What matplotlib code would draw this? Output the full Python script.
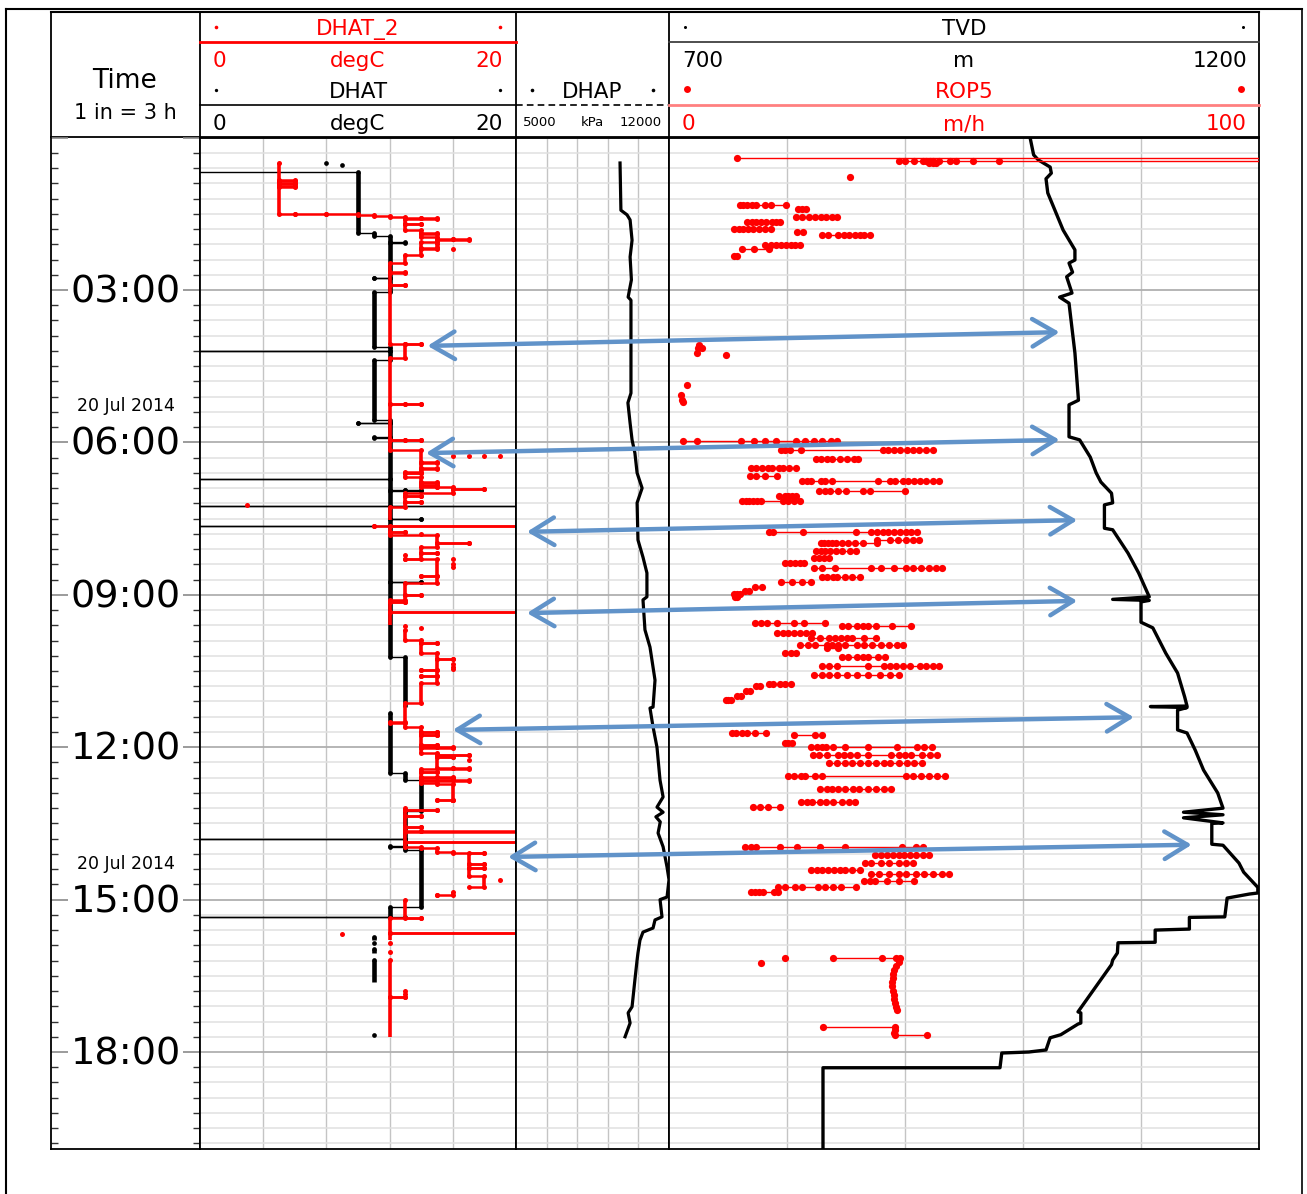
import numpy as np
import matplotlib.pyplot as plt
from matplotlib.patches import ConnectionPatch
from matplotlib.ticker import MultipleLocator

nan = float('nan')

# ---- data (time in hours after 00:00 on 20 Jul 2014) ----
# DHAT / DHAT_2: change points (hour, degC); value holds until the next point, nan = no data
dhat_pts = [
    (0.50, 8), (0.505, nan), (0.54, 9), (0.545, nan),
    (0.66, -2), (0.68, 10), (1.88, 11), (1.94, 12), (2.06, 13), (2.065, 12), (2.76, 11), (2.765, 12), (3.04, 11),
    (4.12, 12), (4.20, -2), (4.205, 12), (4.38, 11), (5.56, 12), (5.62, 10), (5.625, 12), (5.89, 11), (5.92, 12),
    (6.72, -2), (6.725, 12), (6.94, 13), (6.945, 14), (6.95, 12), (7.25, -2), (7.252, 22), (7.255, 12),
    (7.51, 14), (7.515, 12), (7.65, -2), (7.655, 12), (8.75, 14), (8.755, 12), (10.23, 13), (11.21, nan),
    (11.33, 12), (12.51, 13), (12.65, 14), (13.25, 13), (13.81, -2), (13.815, 13), (13.95, 12), (13.955, 13),
    (14.02, 14), (15.14, 12), (15.34, -2), (15.345, 13), (15.35, nan),
    (15.74, 11), (15.80, nan), (15.85, 11), (15.86, nan), (15.98, 11), (16.05, nan),
    (16.19, 11), (16.62, nan), (17.66, 11), (17.665, nan),
]

dhat2_pts = [
    (0.50, 5), (0.84, 6), (0.85, 5), (0.90, 6), (0.91, 5), (0.96, 6), (0.97, 5),
    (1.50, 6), (1.505, 8), (1.51, 10), (1.53, 11), (1.54, 12), (1.56, 13), (1.58, 14), (1.59, 15), (1.60, 13),
    (1.70, 14), (1.71, 13), (1.82, 14), (1.88, 15), (1.89, 14), (1.96, 15), (2.00, 16), (2.005, 17), (2.01, 15),
    (2.06, 14), (2.18, 15), (2.19, 14), (2.31, 13), (2.47, 12), (2.65, 13), (2.66, 12), (2.90, 13), (2.91, 12),
    (4.06, 13), (4.065, 14), (4.07, 13), (4.34, 12),
    (5.24, 13), (5.245, 14), (5.25, 12), (5.95, 13), (5.955, 14), (5.96, 12), (6.15, 14),
    (6.39, 15), (6.40, 14), (6.51, 15), (6.52, 14), (6.58, 13), (6.60, 14), (6.61, 13), (6.68, 14),
    (6.78, 15), (6.79, 14), (6.84, 15), (6.85, 14), (6.88, 15), (6.885, 16), (6.92, 18), (6.925, 16), (6.99, 13),
    (7.05, 14), (7.06, 13), (7.17, 14), (7.18, 13), (7.27, 12), (7.53, nan),
    (7.64, 11), (7.65, 22), (7.655, 12), (7.76, 13), (7.765, 12), (7.82, 15), (7.98, 17), (7.985, 15),
    (8.06, 14), (8.18, 15), (8.185, 14), (8.30, 13), (8.305, 15), (8.63, 14), (8.635, 15), (8.77, 13),
    (9.00, 14), (9.005, 13), (9.10, 12), (9.14, 13), (9.145, 12), (9.34, 22), (9.345, 12), (9.59, nan),
    (9.69, 13), (9.89, 14), (9.95, 15), (9.955, 14), (10.15, 15), (10.26, 16), (10.265, 15),
    (10.48, 14), (10.485, 15), (10.60, 14), (10.605, 15), (10.74, 14), (11.13, 13), (11.50, 12), (11.52, 13),
    (11.60, 14), (11.70, 15), (11.705, 14), (11.76, 15), (11.765, 14), (11.96, 15), (11.965, 14),
    (12.00, 15), (12.005, 16), (12.01, 14), (12.11, 15), (12.15, 17), (12.155, 15), (12.19, 16), (12.195, 15),
    (12.41, 16), (12.415, 17), (12.42, 14), (12.49, 15), (12.495, 14), (12.59, 15), (12.595, 16), (12.60, 14),
    (12.65, 16), (12.655, 17), (12.66, 14), (12.71, 15), (12.715, 16), (13.04, 15), (13.045, 16), (13.10, nan),
    (13.20, 13), (13.24, 15), (13.245, 13), (13.35, 14), (13.355, 13), (13.57, 14), (13.575, 13),
    (13.65, 14), (13.655, 22), (13.66, 13), (13.87, 22), (13.875, 13), (13.97, 14), (13.975, 15),
    (14.06, 16), (14.08, 18), (14.085, 17), (14.30, 18), (14.305, 17), (14.38, 18), (14.385, 17),
    (14.53, 18), (14.75, 17), (14.76, nan), (14.85, 16), (14.91, 15), (14.915, nan),
    (15.00, 13), (15.36, 14), (15.365, 12), (15.66, 22), (15.665, 12), (15.80, nan),
    (16.19, 12), (16.92, 13), (16.925, 12), (17.70, nan),
]

dhat2_dots = [
    (2.10, 15), (2.15, 15), (2.20, 16), (6.27, 16), (6.27, 17), (6.27, 18), (6.27, 19), (7.23, 3),
    (7.80, 14), (8.22, 13), (8.30, 16), (8.40, 16), (8.45, 16), (9.62, 13), (9.66, 14), (10.37, 16),
    (10.43, 16), (10.47, 16), (12.25, 17), (14.61, 19), (14.91, 15), (15.68, 9), (15.85, 12),
    (16.03, 12), (16.80, 13), (16.86, 13),
]

# DHAP (hour, kPa)
dhap_pts = [
    (0.50, 9760), (1.43, 9800), (1.52, 10080), (1.62, 10220), (2.02, 10310), (2.35, 10220), (2.80, 10280),
    (3.14, 10130), (3.20, 10260), (3.98, 10260), (5.03, 10260), (5.22, 10120), (5.62, 10220), (5.95, 10310),
    (6.21, 10440), (6.60, 10540), (6.90, 10770), (7.19, 10540), (7.92, 10580), (8.26, 10810), (8.57, 10990),
    (9.04, 10990), (9.10, 10810), (9.69, 10900), (10.03, 11130), (10.68, 11360), (11.21, 11270),
    (11.23, 11130), (11.60, 11270), (12.00, 11450), (12.65, 11590), (12.98, 11730), (13.18, 11450),
    (13.28, 11730), (13.37, 11400), (13.47, 11600), (13.69, 11500), (13.96, 11730), (14.36, 11910),
    (14.61, 12000), (14.95, 11910), (15.00, 11590), (15.34, 11680), (15.40, 11360), (15.56, 11270),
    (15.64, 10810), (15.80, 10670), (16.05, 10580), (16.19, 10540), (16.58, 10440), (17.11, 10310),
    (17.23, 10130), (17.43, 10220), (17.70, 9990),
]

# TVD (hour, m)
tvd_pts = [
    (0.0, 1006), (0.34, 1009), (0.44, 1013), (0.58, 1023), (0.70, 1024), (0.81, 1019.5), (1.09, 1021),
    (1.82, 1034), (2.21, 1044), (2.41, 1044), (2.47, 1039), (2.65, 1042), (2.74, 1037), (3.06, 1041.5),
    (3.14, 1031), (3.26, 1039), (4.24, 1044), (5.17, 1047), (5.26, 1039), (5.89, 1039), (5.95, 1048),
    (6.29, 1057), (6.60, 1062), (6.78, 1066), (7.00, 1075), (7.19, 1076), (7.23, 1069), (7.69, 1069),
    (7.72, 1076), (8.18, 1089), (8.57, 1098), (9.04, 1107), (9.09, 1076), (9.11, 1107), (9.14, 1100),
    (9.54, 1100), (9.65, 1110), (10.15, 1121), (10.54, 1131), (11.01, 1137), (11.19, 1139), (11.20, 1108),
    (11.22, 1139), (11.27, 1131), (11.66, 1131), (11.72, 1139), (12.06, 1146), (12.45, 1153), (12.90, 1165),
    (13.20, 1169.5), (13.28, 1136), (13.33, 1169.5), (13.39, 1136), (13.49, 1169.5), (13.50, 1160),
    (13.91, 1160), (13.93, 1169.5), (14.28, 1183), (14.46, 1187), (14.76, 1199), (14.87, 1199),
    (14.89, 1192), (14.97, 1173), (15.34, 1171), (15.35, 1141), (15.58, 1141), (15.60, 1112), (15.84, 1112),
    (15.85, 1080.5), (16.05, 1080), (16.19, 1076), (16.28, 1075), (17.21, 1046.6), (17.23, 1049),
    (17.43, 1049), (17.45, 1046.6), (17.66, 1032), (17.72, 1023), (17.96, 1019.5), (18.00, 1005),
    (18.02, 982), (18.31, 980.5), (18.31, 830.5), (19.95, 830.5),
]

# ROP5: rows of samples logged at (nearly) the same time: (hour, [m/h ...])
rop5_rows = [
    (0.40, [11.5, 105]),
    (0.46, [105, 56, 51.5, 48.6, 47.6, 45.8, 44.7, 44.2, 43.5, 43.0, 41.5, 40.0, 39.0]),
    (0.50, [44.0, 44.7, 45.3]),
    (0.78, [30.7]),
    (1.33, [12.0, 12.6, 13.2, 14.0, 14.8, 16.3, 17.3, 19.8]),
    (1.40, [21.8, 22.6, 23.2]),
    (1.56, [21.5, 22.5, 23.8, 24.8, 25.8, 26.6, 27.6, 28.4]),
    (1.66, [13.3, 14.0, 14.8, 15.6, 16.5, 17.4, 18.2, 18.8]),
    (1.80, [11.0, 11.8, 12.6, 13.4, 14.2, 15.2, 16.2, 17.3]),
    (1.86, [21.7, 22.7]),
    (1.92, [26.0, 27.0, 28.6, 29.7, 30.5, 31.5, 32.3, 33.0, 34.0]),
    (2.11, [16.2, 17.3, 18.2, 19.0, 19.8, 20.6, 21.4, 22.2]),
    (2.20, [12.4, 14.4, 17.0]),
    (2.33, [11.0, 11.5]),
    (4.09, [5.1]), (4.15, [5.6, 4.9]), (4.24, [4.7]), (4.28, [9.7]),
    (4.87, [3.0]), (5.07, [2.0]), (5.17, [2.2]), (5.21, [2.4]),
    (5.97, [2.4, 4.7, 12.2, 14.4, 16.3, 18.1, 21.5, 23.0, 24.5, 26.0, 27.5, 28.5]),
    (6.15, [18.9, 19.7, 20.5, 22.3, 36.2, 37.2, 38.2, 39.1, 40.4, 41.4, 42.4, 43.6, 44.8]),
    (6.33, [24.9, 25.8, 26.7, 27.7, 28.9, 30.2, 31.4, 32.0]),
    (6.50, [13.9, 14.8, 15.8, 16.7, 17.4, 18.6, 19.3, 20.3, 21.5]),
    (6.66, [13.7, 14.7, 16.3, 18.3]),
    (6.75, [22.5, 23.4, 24.1, 25.8, 26.4, 27.6, 35.4, 37.5, 38.3, 39.6, 40.5, 41.5, 42.5, 43.5, 44.7, 45.7]),
    (6.96, [25.4, 26.4, 27.3, 28.6, 30.0, 32.9, 34.1, 40.0]),
    (7.05, [18.6, 19.6, 20.2, 20.8, 21.5]),
    (7.15, [12.4, 13.0, 13.6, 14.3, 14.9, 15.6, 19.3, 20.2, 21.2, 22.2]),
    (7.76, [16.9, 17.6, 22.7, 31.7, 34.3, 35.3, 36.2, 37.2, 38.2, 39.1, 40.1, 41.0, 42.0]),
    (7.92, [35.3, 37.5, 38.8, 40.1, 41.4, 42.4]),
    (7.98, [25.7, 26.3, 27.0, 27.7, 28.3, 29.3, 30.3, 31.6, 32.9, 35.3]),
    (8.13, [24.9, 25.7, 26.5, 27.3, 28.3, 29.4, 30.6, 31.7]),
    (8.27, [24.6, 25.4, 26.3, 27.1]),
    (8.37, [19.6, 20.5, 21.3, 22.2, 22.9]),
    (8.47, [24.6, 25.9, 28.1, 34.3, 35.9, 38.2, 40.1, 41.4, 42.7, 44.0, 45.2, 46.2]),
    (8.64, [25.9, 26.8, 27.8, 28.5, 29.8, 31.0, 32.4]),
    (8.75, [18.9, 20.9, 22.5, 24.1]),
    (8.85, [15.8, 14.5]), (8.92, [13.5, 12.8]), (8.98, [12.0, 11.5, 11.0]), (9.05, [11.2, 11.6]),
    (9.56, [14.6, 15.6, 16.6, 18.3, 21.2, 22.8, 26.4]),
    (9.62, [29.3, 30.3, 31.9, 32.9, 33.8, 35.1, 37.8, 41.0]),
    (9.76, [18.3, 19.3, 20.2, 21.2, 22.2, 23.2, 24.2]),
    (9.86, [24.0, 25.6, 27.2, 28.2, 29.2, 30.2, 31.1, 33.1, 35.1]),
    (9.98, [22.2, 23.5, 24.8, 26.7, 27.7, 28.6, 29.9, 31.9, 33.1, 34.4, 36.0, 37.3, 38.6, 39.6]),
    (10.05, [26.7, 28.6]),
    (10.15, [19.6, 20.6, 21.5]),
    (10.22, [29.3, 30.3, 31.9, 32.9, 33.8, 35.5, 36.6]),
    (10.40, [25.9, 27.2, 28.5, 33.8, 36.4, 37.4, 38.4, 39.6, 40.9, 42.6, 43.6, 44.8, 45.8]),
    (10.58, [24.6, 25.9, 27.2, 28.5, 30.1, 31.8, 33.8, 35.7, 37.4, 39.0]),
    (10.75, [16.9, 17.6, 18.8, 19.6, 20.6]),
    (10.80, [15.5, 14.8]), (10.90, [13.8, 13.0]), (11.00, [12.2, 11.5]), (11.08, [10.5, 10.0, 9.7]),
    (11.72, [10.7, 11.3, 12.3, 13.3, 14.5, 16.4]),
    (11.76, [21.2, 24.7, 25.9]),
    (11.92, [19.6, 20.2, 20.9]),
    (11.99, [24.1, 25.0, 25.9, 26.6, 27.8, 29.8, 33.8, 38.7, 42.0, 43.3, 44.5]),
    (12.15, [24.4, 25.4, 26.7, 28.6, 29.6, 30.6, 31.9, 33.8, 37.7, 39.0, 40.0, 41.0, 42.9, 44.2, 45.5]),
    (12.32, [27.1, 28.5, 29.8, 31.1, 32.4, 33.8, 35.1, 36.4, 37.4, 39.0, 40.3, 41.6, 42.9]),
    (12.57, [20.2, 21.2, 22.4, 23.1, 24.7, 25.9, 40.1, 41.4, 42.7, 44.0, 45.5, 46.8]),
    (12.83, [25.6, 26.7, 27.6, 28.6, 29.9, 31.2, 32.2, 33.8, 35.1, 36.4, 37.7]),
    (13.07, [22.4, 23.4, 24.2, 25.6, 26.6, 27.8, 29.3, 30.5, 31.5]),
    (13.18, [14.2, 15.5, 16.8, 18.8]),
    (13.96, [12.9, 13.9, 14.8, 18.8, 21.7, 25.6, 29.8, 39.5, 41.9, 43.0]),
    (14.12, [34.9, 35.9, 36.9, 37.9, 38.9, 39.9, 40.9, 41.9, 43.0, 44.0]),
    (14.27, [33.3, 34.3, 36.0, 37.3, 38.9, 40.2, 41.4]),
    (14.42, [24.0, 25.0, 26.0, 26.9, 27.9, 28.9, 29.8, 31.1, 32.4]),
    (14.50, [34.3, 35.6, 37.3, 38.9, 40.2, 41.9, 43.2, 44.8, 46.2, 47.5]),
    (14.64, [33.0, 34.0, 34.9, 36.9, 38.9, 41.5]),
    (14.75, [18.4, 19.7, 21.3, 22.6, 25.2, 26.5, 27.8, 29.1, 31.7]),
    (14.85, [13.9, 14.6, 15.2, 15.9, 17.8, 18.4]),
    (16.15, [19.7]), (16.25, [15.6]),
    (16.15, [27.8, 36.1, 38.5, 39.1]),
    (16.23, [38.9]), (16.31, [38.5]), (16.39, [38.2]), (16.47, [38.0]), (16.55, [37.9]), (16.63, [37.8]),
    (16.71, [37.8]), (16.79, [38.0]), (16.87, [38.1]), (16.95, [38.2]), (17.03, [38.3]), (17.11, [38.4]),
    (17.18, [38.6]),
    (17.50, [26.1, 38.3]), (17.56, [38.3]), (17.62, [38.2]), (17.66, [38.3, 43.7]),
]

dhat_scale = (0, 20)
dhap_scale = (5000, 12000)
tvd_scale = (700, 1200)
rop_scale = (0, 100)

time_label_hours = [3, 6, 9, 12, 15, 18]
time_labels = ['03:00', '06:00', '09:00', '12:00', '15:00', '18:00']
date_label_hours = [6, 15]
date_label = '20 Jul 2014'

# blue annotation arrows: (left track, left value, left hour, right TVD, right hour)
arrows = [
    ('dhat', 14.4, 4.10, 1031, 3.83),
    ('dhat', 14.3, 6.21, 1031, 5.95),
    ('dhap', 5500, 7.76, 1046, 7.53),
    ('dhap', 5500, 9.36, 1046, 9.12),
    ('dhat', 16.0, 11.66, 1094, 11.41),
    ('dhat', 19.5, 14.16, 1143, 13.92),
]

# ---- layout (pixels) ----
W, H = 1307, 1194
TOP, BOT = 137.6, 1149
T_END = (BOT - TOP) / 50.8
RED = '#ff0000'

plt.rcParams['font.family'] = ['DejaVu Sans']
fig = plt.figure(figsize=(W / 100, H / 100), dpi=100)

ov = fig.add_axes([0, 0, 1, 1], zorder=-1)
ov.set_xlim(0, W)
ov.set_ylim(H, 0)
ov.axis('off')


def track(x0, x1):
    ax = fig.add_axes([x0 / W, 1 - BOT / H, (x1 - x0) / W, (BOT - TOP) / H])
    ax.set_ylim(T_END, 0)
    for s in ax.spines.values():
        s.set_linewidth(1.3)
        s.set_color('k')
    return ax


def style_track(ax, xlim, xgrid):
    ax.set_xlim(xlim)
    ax.set_xticks(xgrid)
    ax.yaxis.set_major_locator(MultipleLocator(3))
    ax.yaxis.set_minor_locator(MultipleLocator(0.3))
    ax.grid(axis='x', color='#c4c4c4', lw=1)
    ax.grid(axis='y', which='minor', color='#e0e0e0', lw=1.1)
    ax.grid(axis='y', which='major', color='#b0b0b0', lw=1.3)
    ax.tick_params(which='both', length=0, labelleft=False, labelbottom=False)
    ax.set_axisbelow(True)


ax_time = track(51, 200)
ax_dhat = track(200, 516)
ax_dhap = track(516, 669)
ax_tvd = track(669, 1259)

style_track(ax_dhat, dhat_scale, [4, 8, 12, 16])
style_track(ax_dhap, dhap_scale, [6400, 7800, 9200, 10600])
style_track(ax_tvd, tvd_scale, [800, 900, 1000, 1100])

ax_rop = ax_tvd.twiny()
ax_rop.set_xlim(rop_scale)
ax_rop.set_ylim(T_END, 0)
ax_rop.axis('off')

# time track
ax_time.set_xlim(0, 1)
ax_time.set_xticks([])
ax_time.yaxis.set_major_locator(MultipleLocator(3))
ax_time.yaxis.set_minor_locator(MultipleLocator(0.3))
ax_time.tick_params(which='major', direction='in', length=12, width=1.2, color='#8a8a8a',
                    left=True, right=True, labelleft=False)
ax_time.tick_params(which='minor', direction='in', length=5, width=1, color='#333333',
                    left=True, right=True)
ax_time.spines['top'].set_visible(False)
tr = ax_time.get_yaxis_transform()
for h, lab in zip(time_label_hours, time_labels):
    ax_time.text(0.5, h + 0.05, lab, transform=tr, ha='center', va='center', fontsize=27.5)
for h in date_label_hours:
    ax_time.text(0.5, h - 0.71, date_label, transform=tr, ha='center', va='center', fontsize=12.5)


def draw_steps(ax, pts, color, lw_v, lw_h, ms):
    t = np.array([p[0] for p in pts], dtype=float)
    v = np.array([p[1] for p in pts], dtype=float)
    ok = np.isfinite(v)
    mv = ok[:-1]
    ax.vlines(v[:-1][mv], t[:-1][mv], t[1:][mv], color=color, lw=lw_v)
    mh = ok[:-1] & ok[1:]
    ax.hlines(t[1:][mh], v[:-1][mh], v[1:][mh], color=color, lw=lw_h)
    ax.plot(v[ok], t[ok], 'o', color=color, ms=ms, mew=0)
    ax.plot(v[:-1][mh], t[1:][mh], 'o', color=color, ms=ms, mew=0)


draw_steps(ax_dhat, dhat_pts, 'black', 3.3, 1.0, 3.4)
draw_steps(ax_dhat, dhat2_pts, RED, 2.6, 1.8, 3.6)
ax_dhat.plot([p[1] for p in dhat2_dots], [p[0] for p in dhat2_dots], 'o', color=RED, ms=3.6, mew=0)

ax_dhap.plot([p[1] for p in dhap_pts], [p[0] for p in dhap_pts], color='black', lw=2.3,
             solid_joinstyle='round')

ax_tvd.plot([p[1] for p in tvd_pts], [p[0] for p in tvd_pts], color='black', lw=2.4,
            solid_joinstyle='round')

for t, vals in rop5_rows:
    ax_rop.plot(vals, [t] * len(vals), '-o', color=RED, lw=1.0, ms=5.2, mew=0)

for side, xa, ta, xb, tb in arrows:
    axa = ax_dhat if side == 'dhat' else ax_dhap
    con = ConnectionPatch(xyA=(xa, ta), coordsA=axa.transData, xyB=(xb, tb), coordsB=ax_tvd.transData,
                          arrowstyle='<->,head_length=0.75,head_width=0.45', mutation_scale=22,
                          lw=3.2, color='#6193c9', zorder=10, capstyle='round')
    fig.add_artist(con)

# ---- frame and header ----
ov.plot([6, 6], [9, H], color='k', lw=1.5)
ov.plot([6, 1302], [9, 9], color='k', lw=1.5)
ov.plot([1302, 1302], [9, H], color='k', lw=1.2)
ov.plot([51, 1259], [12, 12], color='k', lw=1.5)
ov.plot([51, 1259], [137, 137], color='k', lw=1.3)
for x in [51, 200, 516, 669, 1259]:
    ov.plot([x, x], [12, 137], color='k', lw=1.3)

FS = 15.5
ov.text(125, 81, 'Time', ha='center', va='center', fontsize=19)
ov.text(125, 113, '1 in = 3 h', ha='center', va='center', fontsize=15)

# DHAT track header
ov.plot([216, 500], [27, 27], 'o', color=RED, ms=2.6, mew=0)
ov.text(358, 29, 'DHAT_2', ha='center', va='center', fontsize=FS, color=RED)
ov.plot([200, 516], [42, 42], color=RED, lw=2)
ov.text(213, 61, str(dhat_scale[0]), ha='left', va='center', fontsize=FS, color=RED)
ov.text(358, 61, 'degC', ha='center', va='center', fontsize=FS, color=RED)
ov.text(503, 61, str(dhat_scale[1]), ha='right', va='center', fontsize=FS, color=RED)
ov.plot([216, 500], [90, 90], 'o', color='k', ms=2.4, mew=0)
ov.text(358, 92, 'DHAT', ha='center', va='center', fontsize=FS)
ov.plot([200, 516], [105, 105], color='k', lw=1.2)
ov.text(213, 124, str(dhat_scale[0]), ha='left', va='center', fontsize=FS)
ov.text(358, 124, 'degC', ha='center', va='center', fontsize=FS)
ov.text(503, 124, str(dhat_scale[1]), ha='right', va='center', fontsize=FS)

# DHAP track header
ov.plot([532, 653], [90, 90], 'o', color='k', ms=2.6, mew=0)
ov.text(592, 92, 'DHAP', ha='center', va='center', fontsize=FS)
ov.plot([516, 669], [105, 105], color='k', lw=1.2, dashes=(4, 2.5))
ov.text(523, 122, str(dhap_scale[0]), ha='left', va='center', fontsize=9.5)
ov.text(592, 122, 'kPa', ha='center', va='center', fontsize=9.5)
ov.text(662, 122, str(dhap_scale[1]), ha='right', va='center', fontsize=9.5)

# TVD / ROP5 track header
ov.plot([685, 1243], [27, 27], 'o', color='k', ms=2.2, mew=0)
ov.text(964, 29, 'TVD', ha='center', va='center', fontsize=FS)
ov.plot([669, 1259], [42, 42], color='#404040', lw=1.3)
ov.text(682, 61, str(tvd_scale[0]), ha='left', va='center', fontsize=FS)
ov.text(964, 61, 'm', ha='center', va='center', fontsize=FS)
ov.text(1247, 61, str(tvd_scale[1]), ha='right', va='center', fontsize=FS)
ov.plot([687, 1241], [89, 89], 'o', color=RED, ms=5, mew=0)
ov.text(964, 92, 'ROP5', ha='center', va='center', fontsize=FS, color=RED)
ov.plot([669, 1259], [105, 105], color='#ff8080', lw=2)
ov.text(682, 124, str(rop_scale[0]), ha='left', va='center', fontsize=FS, color=RED)
ov.text(964, 124, 'm/h', ha='center', va='center', fontsize=FS, color=RED)
ov.text(1247, 124, str(rop_scale[1]), ha='right', va='center', fontsize=FS, color=RED)

fig.savefig('out.png', dpi=100)
